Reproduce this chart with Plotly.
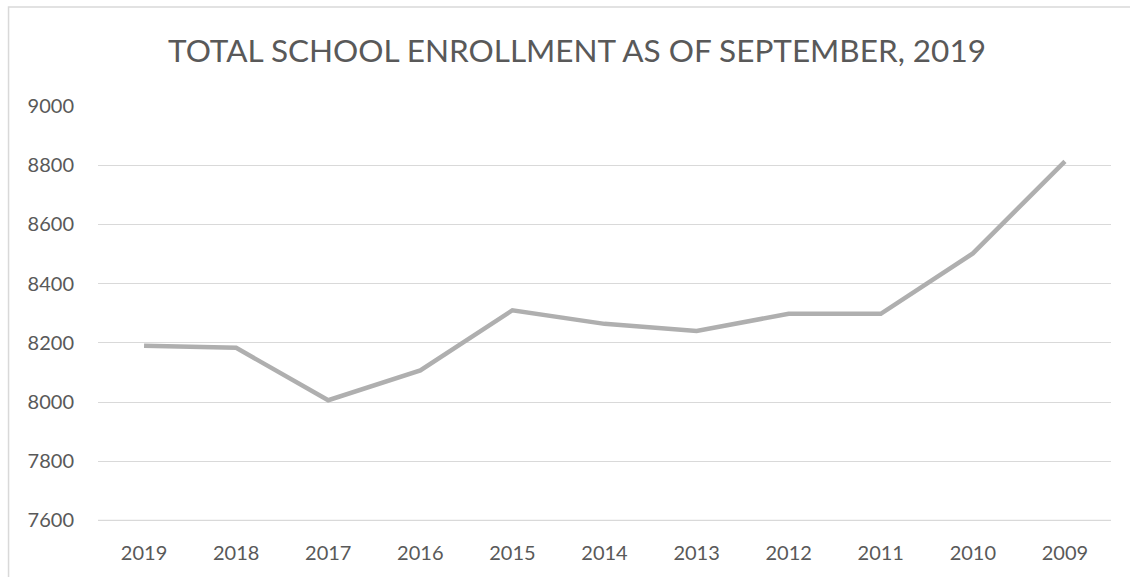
import plotly.graph_objects as go

years = ["2019", "2018", "2017", "2016", "2015", "2014", "2013", "2012", "2011", "2010", "2009"]
enrollment = [8190, 8183, 8006, 8107, 8310, 8264, 8240, 8298, 8298, 8502, 8813]
y_ticks = [7600, 7800, 8000, 8200, 8400, 8600, 8800, 9000]

W, H = 1130, 577
L, R, T, B = 97.5, 19, 106, 56
pw = W - L - R
ph = H - T - B

def px_to_paper_x(px):
    return (px - L) / pw

def px_to_paper_y(py):
    return (H - B - py) / ph

fig = go.Figure()
fig.add_trace(go.Scatter(
    x=years, y=enrollment, mode="lines",
    line=dict(color="#afafaf", width=4.5),
    hoverinfo="x+y", showlegend=False,
))

text_color = "#595959"
grid_color = "#d9d9d9"
fig.update_layout(
    width=W, height=H,
    margin=dict(l=L, r=R, t=T, b=B, pad=0),
    paper_bgcolor="white", plot_bgcolor="white",
    title=dict(
        text="TOTAL SCHOOL ENROLLMENT AS OF SEPTEMBER, 2019",
        x=577 / W, xanchor="center", y=1 - 51 / H, yanchor="middle",
        font=dict(family="Lato", size=31.5, color=text_color),
    ),
    font=dict(family="Lato", size=20, color=text_color),
    xaxis=dict(
        type="category", range=[-0.5, len(years) - 0.5],
        showgrid=False, zeroline=False, showline=False,
        ticks="", tickfont=dict(size=20, color=text_color),
        ticklabelstandoff=18,
    ),
    yaxis=dict(
        range=[7598, 9000], tickvals=y_ticks,
        showgrid=True, gridcolor=grid_color, gridwidth=1.3,
        zeroline=False, showline=False, ticks="",
        tickfont=dict(size=20, color=text_color),
        ticklabelstandoff=23,
    ),
    shapes=[
        dict(
            type="rect", xref="paper", yref="paper",
            x0=px_to_paper_x(8), x1=px_to_paper_x(1140),
            y0=px_to_paper_y(600), y1=px_to_paper_y(7),
            line=dict(color=grid_color, width=1.5), fillcolor="rgba(0,0,0,0)",
            layer="below",
        ),
        dict(
            type="line", xref="paper", yref="y",
            x0=0, x1=1, y0=y_ticks[0], y1=y_ticks[0],
            line=dict(color=grid_color, width=1.3), layer="below",
        ),
    ],
)

fig.write_html("out.html", config={"displayModeBar": False},
               post_script="document.body.style.margin='0';")
